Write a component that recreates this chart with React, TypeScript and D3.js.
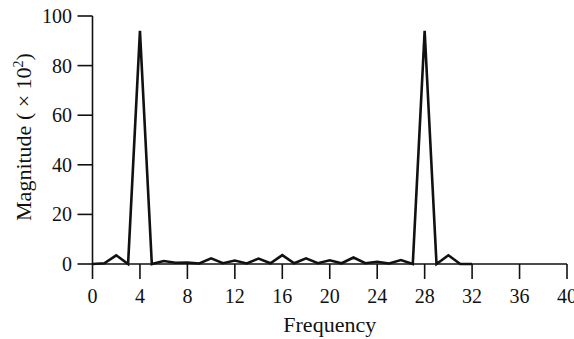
import React from "react";
import * as d3 from "d3";

const frequencies = d3.range(0, 33);
const magnitudes = [
  0, 0.3, 3.5, 0, 94, 0, 1.2, 0.5, 0.6, 0.2, 2.3, 0.3, 1.4, 0.2, 2.2, 0.3, 3.6,
  0.3, 2.3, 0.3, 1.5, 0.3, 2.6, 0.3, 0.9, 0.2, 1.6, 0, 94, 0, 3.5, 0, 0,
];
const xTicks = [0, 4, 8, 12, 16, 20, 24, 28, 32, 36, 40];
const yTicks = [0, 20, 40, 60, 80, 100];

const W = 574;
const H = 339;
const font = "'Liberation Serif', 'Times New Roman', serif";
const ink = "#111";

export default function App() {
  const x = d3.scaleLinear().domain([0, 40]).range([92.5, 567]);
  const y = d3.scaleLinear().domain([0, 100]).range([264, 16]);
  const line = d3
    .line<number>()
    .x((_, i) => x(frequencies[i]))
    .y((d) => y(d));
  const path = line(magnitudes) || "";

  return (
    <svg
      width={W}
      height={H}
      style={{ position: "absolute", left: 0, top: 0, background: "#fff" }}
    >
      <rect width={W} height={H} fill="#fff" />
      {/* axes */}
      <line x1={x(0)} x2={x(40)} y1={y(0)} y2={y(0)} stroke={ink} strokeWidth={1.4} />
      <line x1={x(0)} x2={x(0)} y1={y(0)} y2={y(100)} stroke={ink} strokeWidth={1.6} />
      {yTicks.map((t) => (
        <g key={"y" + t}>
          <line x1={x(0) - 15} x2={x(0)} y1={y(t)} y2={y(t)} stroke={ink} strokeWidth={1.6} />
          <text
            x={72}
            y={y(t)}
            dy="0.35em"
            textAnchor="end"
            fontFamily={font}
            fontSize={20}
            fill={ink}
          >
            {t}
          </text>
        </g>
      ))}
      {xTicks.map((t) => (
        <g key={"x" + t}>
          <line x1={x(t)} x2={x(t)} y1={y(0)} y2={y(0) + 15} stroke={ink} strokeWidth={1.6} />
          <text
            x={x(t)}
            y={303}
            textAnchor="middle"
            fontFamily={font}
            fontSize={20}
            fill={ink}
          >
            {t}
          </text>
        </g>
      ))}
      {/* data */}
      <path d={path} fill="none" stroke={ink} strokeWidth={2.6} strokeLinejoin="miter" />
      {/* titles */}
      <text
        x={(x(0) + x(40)) / 2}
        y={332}
        textAnchor="middle"
        fontFamily={font}
        fontSize={22}
        fill={ink}
      >
        Frequency
      </text>
      <text
        transform={`translate(31, ${137}) rotate(-90)`}
        textAnchor="middle"
        fontFamily={font}
        fontSize={22}
        fill={ink}
      >
        Magnitude ( × 10
        <tspan fontSize={14} dy={-8}>2</tspan>
        <tspan dy={8}>)</tspan>
      </text>
    </svg>
  );
}
